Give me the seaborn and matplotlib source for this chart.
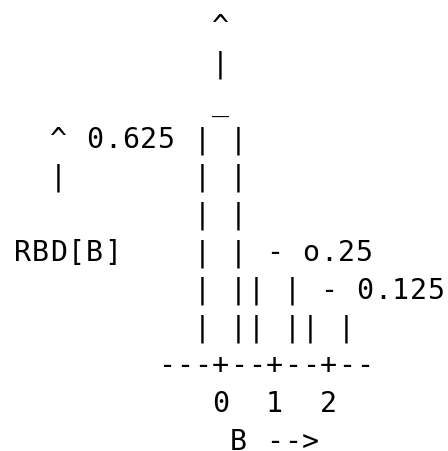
import matplotlib
matplotlib.use('Agg')
import matplotlib.pyplot as plt
import seaborn as sns

# the chart is drawn as text, one string per row (monospace grid)
rows = [
    "            ^",
    "            |",
    "            _",
    "   ^ 0.625 | |",
    "   |       | |",
    "           | |",
    " RBD[B]    | | - o.25",
    "           | || | - 0.125",
    "           | || || |",
    "         ---+--+--+--",
    "            0  1  2",
    "             B -->",
]

sns.set_style('white')
plt.rcParams['font.family'] = ['DejaVu Sans Mono', 'DejaVu Sans']

fig = plt.figure(figsize=(4.48, 4.52), dpi=100)
ax = fig.add_axes([0, 0, 1, 1])
ax.set_xlim(0, 448)
ax.set_ylim(452, 0)
ax.axis('off')

# grid of character cells, in pixels
x0 = -4.5
col_w = 18
first_baseline = 35
line_step = 37.7

for i, row in enumerate(rows):
    y = first_baseline + i * line_step
    for c, ch in enumerate(row):
        if ch == ' ':
            continue
        ax.text(x0 + col_w * (c + 0.5), y, ch, fontsize=20.3,
                ha='center', va='baseline', color='black')

fig.savefig('out.png', dpi=100, facecolor='white')
